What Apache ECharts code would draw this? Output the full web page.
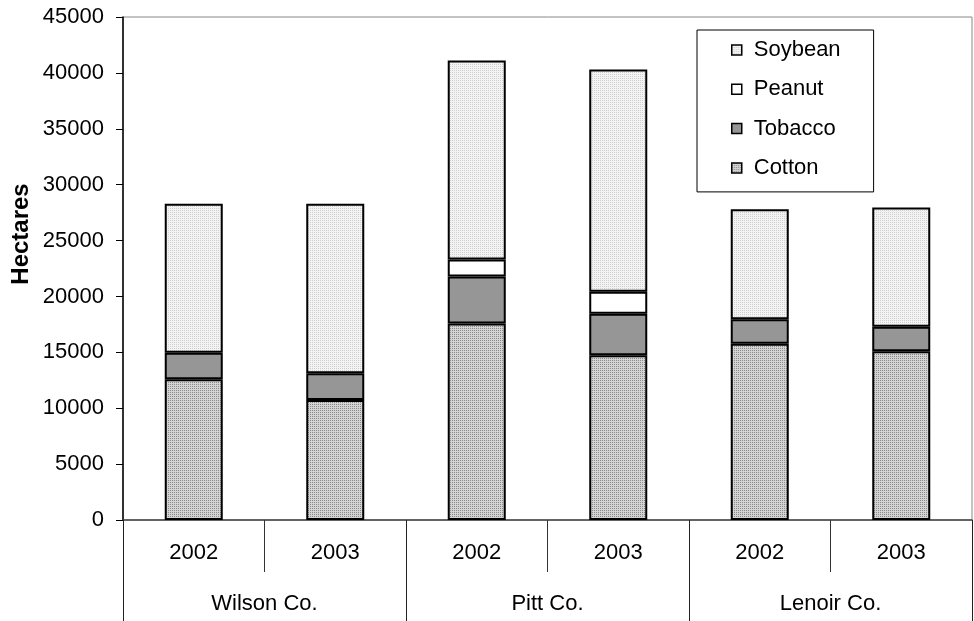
<!DOCTYPE html>
<html>
<head>
<meta charset="utf-8">
<script src="https://cdn.jsdelivr.net/npm/echarts@6/dist/echarts.min.js"></script>
<style>
  html, body { margin: 0; padding: 0; background: #fff; }
  #chart { width: 974px; height: 621px; }
</style>
</head>
<body>
<div id="chart"></div>
<script>
// Crop area by county and year (hectares)
const years = ['2002', '2003', '2002', '2003', '2002', '2003'];
const counties = ['Wilson Co.', 'Pitt Co.', 'Lenoir Co.'];
const cotton = [12600, 10740, 17590, 14750, 15770, 15090];
const tobacco = [2370, 2380, 4200, 3700, 2190, 2190];
const peanut = [0, 0, 1510, 1980, 0, 0];
const soybean = [13330, 15180, 17810, 19880, 9850, 10680];
const yTicks = { min: 0, max: 45000, step: 5000 };

const FONT = '"Liberation Sans", Arial, sans-serif';

// Small stipple tiles used as bar fills
function stipple(dark, light) {
  const c = document.createElement('canvas');
  c.width = 2; c.height = 2;
  const g = c.getContext('2d');
  g.fillStyle = light; g.fillRect(0, 0, 2, 2);
  g.fillStyle = dark; g.fillRect(0, 0, 1, 1);
  return { image: c, repeat: 'repeat' };
}
const cottonFill = stipple('#8a8a8a', '#d4d4d4');
const soyFill = stipple('#cfcfcf', '#f3f3f3');

function barData(arr) {
  return arr.map(v => v === 0 ? { value: 0, itemStyle: { borderWidth: 0 } } : v);
}

function barSeries(name, arr, fill) {
  return {
    name: name,
    type: 'bar',
    stack: 'area',
    barWidth: '41%',
    data: barData(arr),
    itemStyle: { color: fill, borderColor: '#000', borderWidth: 2 },
    emphasis: { disabled: true }
  };
}

const chart = echarts.init(document.getElementById('chart'), null, { renderer: 'canvas' });
chart.setOption({
  animation: false,
  backgroundColor: '#fff',
  grid: {
    left: 123, right: 2, top: 17, bottom: 101,
    show: true, borderColor: '#888', borderWidth: 1, backgroundColor: 'transparent'
  },
  legend: {
    data: ['Soybean', 'Peanut', 'Tobacco', 'Cotton'],
    orient: 'vertical',
    left: 697, top: 30,
    padding: [9, 33, 13, 34],
    itemGap: 17.3,
    itemWidth: 10, itemHeight: 10,
    icon: 'rect',
    itemStyle: { borderWidth: 1.5, borderColor: '#000' },
    borderColor: '#000', borderWidth: 1,
    backgroundColor: '#fff',
    selectedMode: false,
    textStyle: { fontFamily: FONT, fontSize: 22, color: '#000', lineHeight: 22, padding: [0, 0, 0, 7] }
  },
  xAxis: [
    {
      type: 'category',
      data: years,
      position: 'bottom',
      axisLine: { show: true, lineStyle: { color: '#444', width: 1.5 } },
      axisTick: { show: true, length: 52, alignWithLabel: false, lineStyle: { color: '#333', width: 1 } },
      axisLabel: { fontFamily: FONT, fontSize: 22, color: '#000', margin: 22 },
      splitLine: { show: false }
    },
    {
      type: 'category',
      data: counties,
      position: 'bottom',
      axisLine: { show: false },
      axisTick: { show: true, length: 105, alignWithLabel: false, lineStyle: { color: '#222', width: 1 } },
      axisLabel: { fontFamily: FONT, fontSize: 22, color: '#000', margin: 73 },
      splitLine: { show: false }
    }
  ],
  yAxis: {
    type: 'value',
    min: yTicks.min, max: yTicks.max, interval: yTicks.step,
    axisLine: { show: true, lineStyle: { color: '#000', width: 1.5 } },
    axisTick: { show: true, length: 7, lineStyle: { color: '#000', width: 1 } },
    axisLabel: { fontFamily: FONT, fontSize: 22, color: '#000', margin: 19, formatter: v => String(v) },
    splitLine: { show: false }
  },
  graphic: [{
    type: 'text',
    x: 21, y: 234,
    rotation: Math.PI / 2,
    style: {
      text: 'Hectares',
      font: 'bold 24px ' + FONT,
      fill: '#000',
      align: 'center',
      verticalAlign: 'middle'
    }
  }],
  series: [
    barSeries('Cotton', cotton, cottonFill),
    barSeries('Tobacco', tobacco, '#969696'),
    barSeries('Peanut', peanut, '#ffffff'),
    barSeries('Soybean', soybean, soyFill)
  ]
});
</script>
</body>
</html>
